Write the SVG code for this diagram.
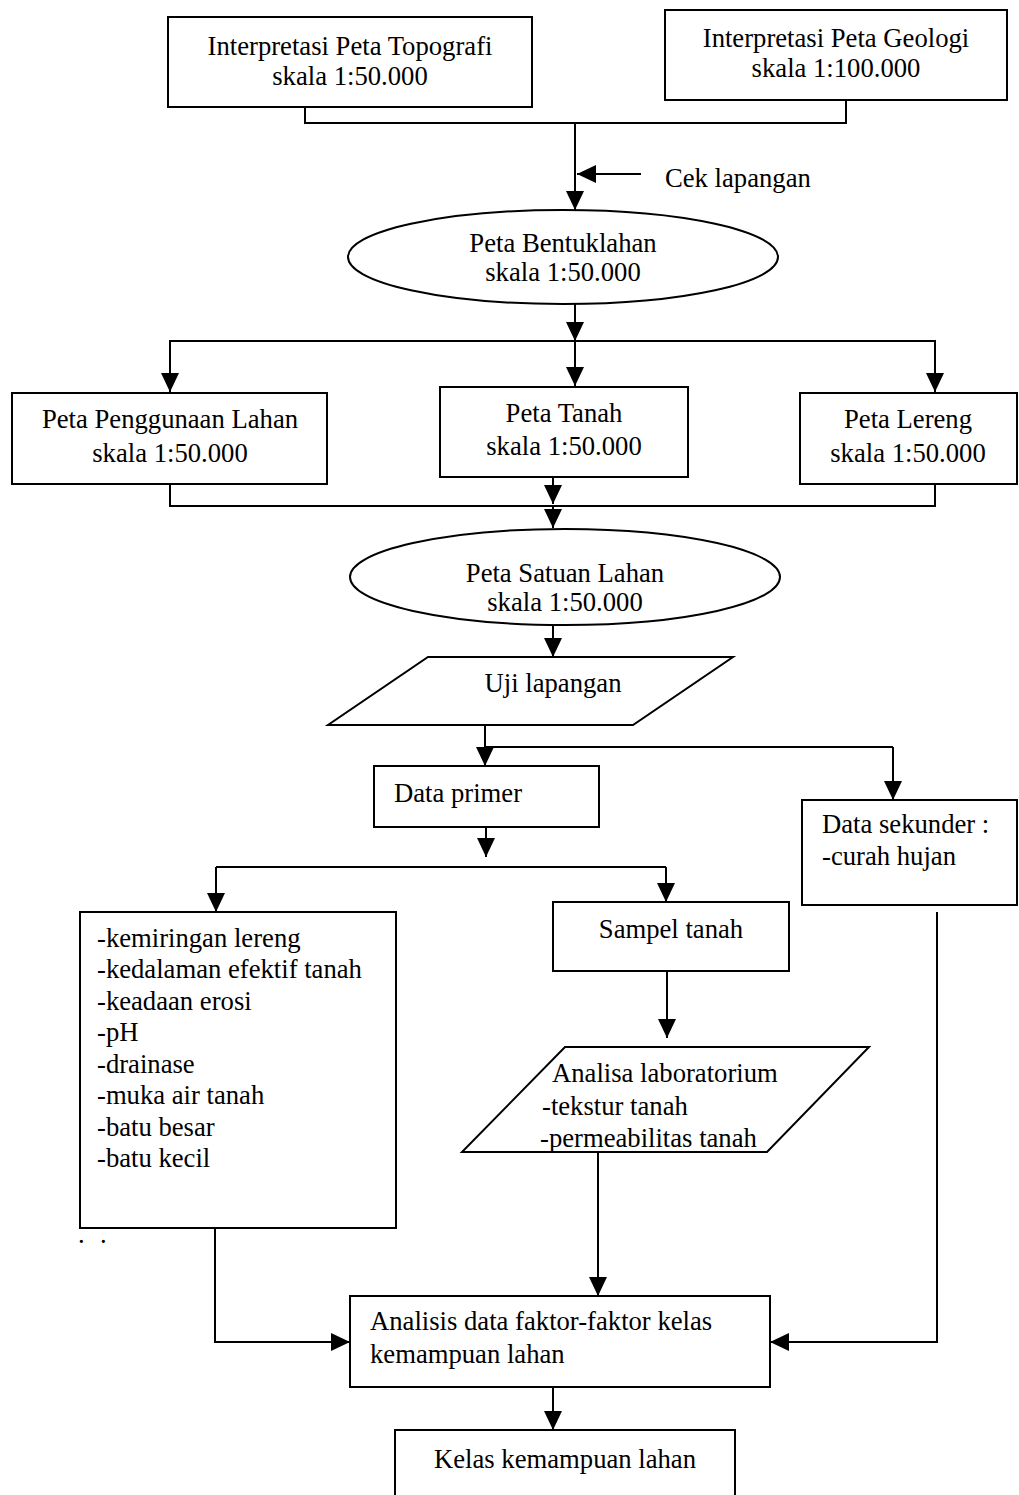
<svg xmlns="http://www.w3.org/2000/svg" width="1019" height="1495" viewBox="0 0 1019 1495">
<style>
.n{fill:#fff;stroke:#000;stroke-width:2}
.t{font-family:"Liberation Serif","Times New Roman",serif;font-size:26.67px;fill:#000}
.c{text-anchor:middle}
.l{fill:none;stroke:#000;stroke-width:2}
.a{marker-end:url(#ah)}
</style>
<defs>
<marker id="ah" markerUnits="userSpaceOnUse" markerWidth="20" markerHeight="20" refX="19" refY="9" orient="auto" viewBox="0 0 20 18">
<path d="M0,0 L19,9 L0,18 z" fill="#000"/>
</marker>
</defs>
<rect width="1019" height="1495" fill="#fff"/>
<g id="connectors">
<path class="l" d="M305,107 V123 H846 V100"/>
<path class="l a" d="M575,123 V210"/>
<path class="l a" d="M641,174 H577"/>
<path class="l a" d="M575,304 V341"/>
<path class="l" d="M170,384 V341 H935 V384"/>
<path class="l a" d="M170,341 V392"/>
<path class="l a" d="M575,341 V386"/>
<path class="l a" d="M935,341 V392"/>
<path class="l" d="M170,484 V506 H935 V484"/>
<path class="l a" d="M553,477 V504"/>
<path class="l a" d="M553,506 V528"/>
<path class="l a" d="M553,625 V657"/>
<path class="l" d="M485,725 V747 H893"/>
<path class="l a" d="M485,747 V766"/>
<path class="l a" d="M893,747 V800"/>
<path class="l a" d="M486,827 V857"/>
<path class="l" d="M216,867 H666"/>
<path class="l a" d="M216,867 V912"/>
<path class="l a" d="M666,867 V902"/>
<path class="l a" d="M667,971 V1038"/>
<path class="l a" d="M215,1228 V1342 H350"/>
<path class="l a" d="M598,1152 V1296"/>
<path class="l a" d="M937,912 V1342 H770"/>
<path class="l a" d="M553,1387 V1430"/>
</g>
<g id="topografi">
<rect class="n" x="168" y="17" width="364" height="90"/>
<text class="t c" x="350" y="55">Interpretasi Peta Topografi</text>
<text class="t c" x="350" y="85">skala 1:50.000</text>
</g>
<g id="geologi">
<rect class="n" x="665" y="10" width="342" height="90"/>
<text class="t c" x="836" y="47">Interpretasi Peta Geologi</text>
<text class="t c" x="836" y="77">skala 1:100.000</text>
</g>
<g id="cek">
<text class="t" x="665" y="187">Cek lapangan</text>
</g>
<g id="bentuklahan">
<ellipse class="n" cx="563" cy="257" rx="215" ry="47"/>
<text class="t c" x="563" y="252">Peta Bentuklahan</text>
<text class="t c" x="563" y="281">skala 1:50.000</text>
</g>
<g id="penggunaan">
<rect class="n" x="12" y="393" width="315" height="91"/>
<text class="t c" x="170" y="428">Peta Penggunaan Lahan</text>
<text class="t c" x="170" y="462">skala 1:50.000</text>
</g>
<g id="tanah">
<rect class="n" x="440" y="387" width="248" height="90"/>
<text class="t c" x="564" y="422">Peta Tanah</text>
<text class="t c" x="564" y="455">skala 1:50.000</text>
</g>
<g id="lereng">
<rect class="n" x="800" y="393" width="217" height="91"/>
<text class="t c" x="908" y="428">Peta Lereng</text>
<text class="t c" x="908" y="462">skala 1:50.000</text>
</g>
<g id="satuan">
<ellipse class="n" cx="565" cy="577" rx="215" ry="48"/>
<text class="t c" x="565" y="582">Peta Satuan Lahan</text>
<text class="t c" x="565" y="611">skala 1:50.000</text>
</g>
<g id="uji">
<polygon class="n" points="428,657 733,657 633,725 328,725"/>
<text class="t c" x="553" y="692">Uji lapangan</text>
</g>
<g id="primer">
<rect class="n" x="374" y="766" width="225" height="61"/>
<text class="t" x="394" y="802">Data primer</text>
</g>
<g id="sekunder">
<rect class="n" x="802" y="800" width="215" height="105"/>
<text class="t" x="822" y="833">Data sekunder :</text>
<text class="t" x="822" y="865">-curah hujan</text>
</g>
<g id="faktor">
<rect class="n" x="80" y="912" width="316" height="316"/>
<text class="t" x="97" y="947">-kemiringan lereng</text>
<text class="t" x="97" y="978">-kedalaman efektif tanah</text>
<text class="t" x="97" y="1010">-keadaan erosi</text>
<text class="t" x="97" y="1041">-pH</text>
<text class="t" x="97" y="1073">-drainase</text>
<text class="t" x="97" y="1104">-muka air tanah</text>
<text class="t" x="97" y="1136">-batu besar</text>
<text class="t" x="97" y="1167">-batu kecil</text>
</g>
<g id="dots">
<text class="t" font-size="14px"><tspan x="78" y="1243">.</tspan><tspan x="100" y="1243">.</tspan></text>
</g>
<g id="sampel">
<rect class="n" x="553" y="902" width="236" height="69"/>
<text class="t c" x="671" y="938">Sampel tanah</text>
</g>
<g id="laboratorium">
<polygon class="n" points="565,1047 869,1047 767,1152 462,1152"/>
<text class="t" x="552" y="1082">Analisa laboratorium</text>
<text class="t" x="542" y="1115">-tekstur tanah</text>
<text class="t" x="540" y="1147">-permeabilitas tanah</text>
</g>
<g id="analisis">
<rect class="n" x="350" y="1296" width="420" height="91"/>
<text class="t" x="370" y="1330">Analisis data faktor-faktor kelas</text>
<text class="t" x="370" y="1363">kemampuan lahan</text>
</g>
<g id="kelas">
<rect class="n" x="395" y="1430" width="340" height="80"/>
<text class="t c" x="565" y="1468">Kelas kemampuan lahan</text>
</g>
</svg>
